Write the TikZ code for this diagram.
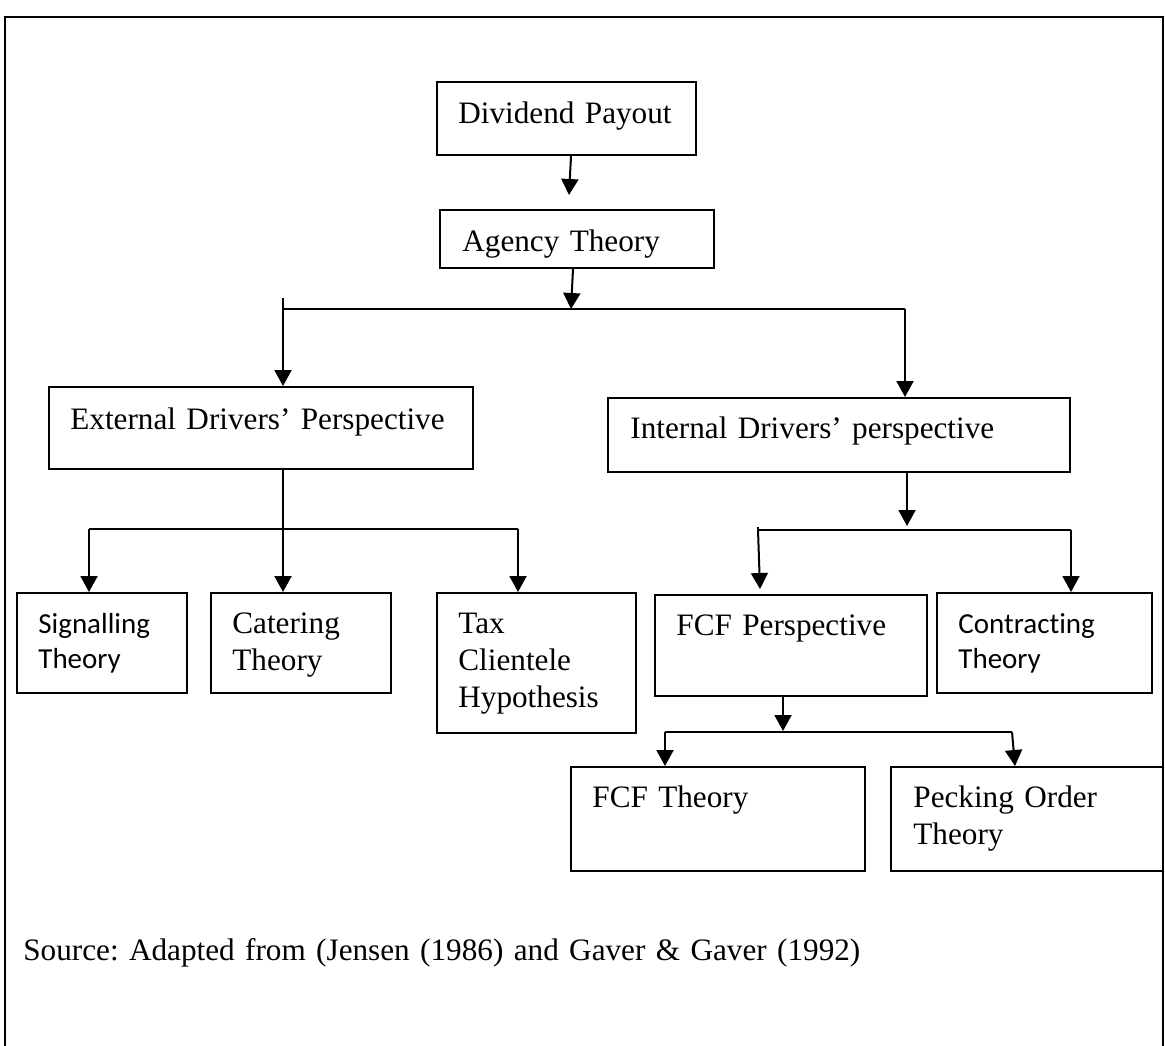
\documentclass[tikz,border=0pt]{standalone}
\usepackage{fontspec}
\setmainfont{Liberation Serif}
\newfontfamily\calfont[Ligatures=NoCommon]{Carlito}
\usetikzlibrary{arrows.meta,calc}
\frenchspacing
\begin{document}
\begin{tikzpicture}[x=0.5pt,y=-0.5pt,
  box/.style={draw,line width=1pt,inner sep=0pt},
  txt/.style={anchor=base west,inner sep=0pt,align=left,text width=150pt,
              font=\fontsize{15.6}{18.5}\selectfont},
  ctxt/.style={anchor=base west,inner sep=0pt,align=left,text width=150pt,
              font=\calfont\fontsize{14.5}{17.5}\selectfont},
  ln/.style={line width=1pt},
  arr/.style={line width=1pt,-{Triangle[width=8.5pt,length=8pt]}}]
\useasboundingbox (0,0) rectangle (1165,1045);
\clip (0,0) rectangle (1165,1045);
\fill[white] (0,0) rectangle (1165,1045);
% outer frame
\draw[line width=1.3pt] (5,1060) -- (5,17) -- (1163,17) -- (1163,1060);

% boxes
\node[box,minimum width=129.5pt,minimum height=36.5pt] (div) at (566.5,118.5) {};
\node[box,minimum width=137pt,minimum height=29pt] (agency) at (577,239) {};
\node[box,minimum width=212pt,minimum height=41pt] (ext) at (261,428) {};
\node[box,minimum width=231pt,minimum height=37pt] (int) at (839,435) {};
\node[box,minimum width=85pt,minimum height=50pt] (sig) at (102,643) {};
\node[box,minimum width=90pt,minimum height=50pt] (cat) at (301,643) {};
\node[box,minimum width=99.5pt,minimum height=70pt] (tax) at (536.5,663) {};
\node[box,minimum width=136pt,minimum height=50.5pt] (fcfp) at (791,645.5) {};
\node[box,minimum width=107.5pt,minimum height=50pt] (con) at (1044.5,643) {};
\node[box,minimum width=147pt,minimum height=52pt] (fcft) at (718,819) {};
\node[box,minimum width=136pt,minimum height=52pt] (peck) at (1027,819) {};

% texts
\node[txt] (divt) at (458,123) {Dividend Payout};
\node[txt] (agencyt) at (462,251) {Agency Theory};
\node[txt,text width=220pt] (extt) at (70,429) {External Drivers’ Perspective};
\node[txt,text width=220pt] (intt) at (630,438) {Internal Drivers’ perspective};
\node[ctxt] (sigt) at (38,633) {Signalling\\Theory};
\node[txt] (catt) at (232,633) {Catering\\Theory};
\node[txt] (taxt) at (458,633) {Tax\\Clientele\\Hypothesis};
\node[txt] (fcfpt) at (676,635) {FCF Perspective};
\node[ctxt] (cont) at (958,633) {Contracting\\Theory};
\node[txt] (fcftt) at (592,807) {FCF Theory};
\node[txt] (peckt) at (913,807) {Pecking Order\\Theory};
\node[txt,text width=500pt] (src) at (23,960) {Source: Adapted from (Jensen (1986) and Gaver \& Gaver (1992)};

% connectors level 1
\draw[arr] ($(div.south)+(4.5,0)$) -- ($(agency.north)+(-8,-14)$);
\coordinate (t1) at (571,309);
\coordinate (b1l) at (283,309);
\coordinate (b1r) at (905,309);
\draw[arr] ($(agency.south)+(-4,0)$) -- (t1);
\draw[ln] (b1l) -- (b1r);
\draw[arr] ($(b1l)+(0,-11)$) -- (ext.north -| b1l);
\draw[arr] (b1r) -- (int.north -| b1r);

% external branch
\coordinate (b2l) at (89,529);
\coordinate (b2r) at (518,529);
\draw[ln] (b2l) -- (b2r);
\draw[arr] (ext.south -| b1l) -- (cat.north -| b1l);
\draw[arr] (b2l) -- (sig.north -| b2l);
\draw[arr] (b2r) -- (tax.north -| b2r);

% internal branch
\coordinate (t3) at (907,526);
\coordinate (b3l) at (758,530);
\coordinate (b3r) at (1071,530);
\draw[arr] (int.south -| t3) -- (t3);
\draw[ln] ($(b3l)+(0,-3)$) -- (b3l) -- (b3r);
\draw[arr] (b3l) -- ($(fcfp.north)+(-31,-5)$);
\draw[arr] (b3r) -- (con.north -| b3r);

% FCF branch
\coordinate (t4) at (783,731);
\coordinate (b4l) at (665,732);
\coordinate (b4r) at (1012,732);
\draw[arr] (fcfp.south -| t4) -- (t4);
\draw[ln] (b4l) -- (b4r);
\draw[arr] (b4l) -- (fcft.north -| b4l);
\draw[arr] (b4r) -- ($(peck.north)+(-12,0)$);
\end{tikzpicture}
\end{document}
